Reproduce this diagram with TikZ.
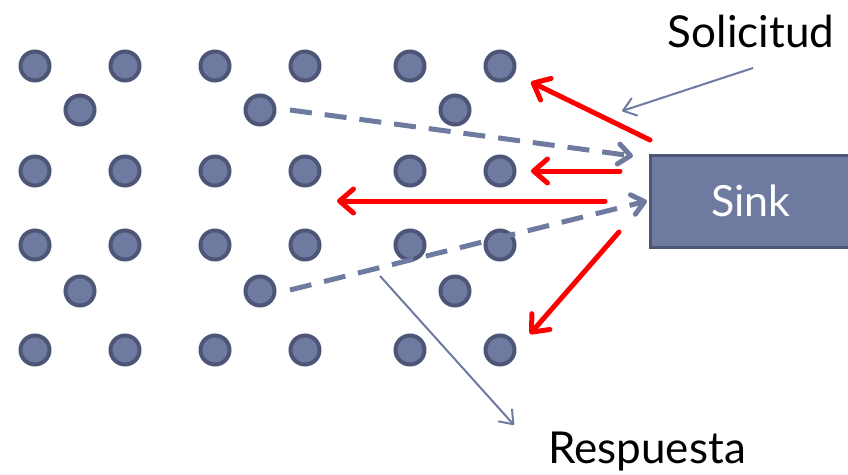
\documentclass[tikz,border=0pt]{standalone}
\usepackage{fontspec}
\setmainfont{Lato}
\usetikzlibrary{arrows.meta}
\definecolor{dotfill}{HTML}{6F7AA0}
\definecolor{dotline}{HTML}{4D5676}

\begin{document}
\begin{tikzpicture}[x=1pt, y=-1pt,
    dot/.style={circle, draw=dotline, fill=dotfill, line width=4pt, minimum size=29pt, inner sep=0pt},
    sinkbox/.style={rectangle, draw=dotline, fill=dotfill, line width=3pt, minimum width=202pt, minimum height=92pt, text=white, font=\fontsize{43}{50}\selectfont},
    req/.style={red, line width=5pt, line cap=round, -{Straight Barb[length=14pt, width=24pt, round]}},
    resp/.style={dotfill, line width=5pt, dash pattern=on 22pt off 13pt, -{Straight Barb[length=12pt, width=20pt, round]}},
    callout/.style={dotfill, line width=2pt, -{Straight Barb[length=12pt, width=18pt, round]}},
    lbl/.style={font=\fontsize{44}{52}\selectfont, anchor=base}]
    \useasboundingbox (0,0) rectangle (848,474);
    % full rows of sensor nodes
    \foreach \y/\r in {66/a, 171/c, 245/d, 350/f}
      \foreach \x [count=\i] in {35,125,215,305,410,500}
        \node[dot] (\r\i) at (\x,\y) {};
    % shifted rows
    \foreach \y/\r in {110/b, 291/e}
      \foreach \x [count=\i] in {80,260,455}
        \node[dot] (\r\i) at (\x,\y) {};
    % sink
    \node[sinkbox] (sink) at (751,201) {Sink};
    % end points of the arrows
    \coordinate (q1) at (650,140); \coordinate (p1) at (531,82);
    \coordinate (q2) at (620,171); \coordinate (p2) at (531,171);
    \coordinate (q3) at (605,201); \coordinate (p3) at (337,201);
    \coordinate (q4) at (619,232); \coordinate (p4) at (530,334);
    \coordinate (s1) at (290,110); \coordinate (z1) at (633,156);
    \coordinate (s2) at (290,290); \coordinate (z2) at (647,201);
    % answers back to the sink
    \draw[resp] (s1) -- (z1);
    \draw[resp] (s2) -- (z2);
    % requests
    \draw[req] (q1) -- (p1);
    \draw[req] (q2) -- (p2);
    \draw[req] (q3) -- (p3);
    \draw[req] (q4) -- (p4);
    % labels
    \node[lbl] (solicitud) at (751,47) {Solicitud};
    \node[lbl] (respuesta) at (647,463) {Respuesta};
    \coordinate (c1) at (753,68); \coordinate (k1) at (622,111);
    \coordinate (c2) at (380,276); \coordinate (k2) at (514,425);
    \draw[callout] (c1) -- (k1);
    \draw[callout] (c2) -- (k2);
\end{tikzpicture}
\end{document}
